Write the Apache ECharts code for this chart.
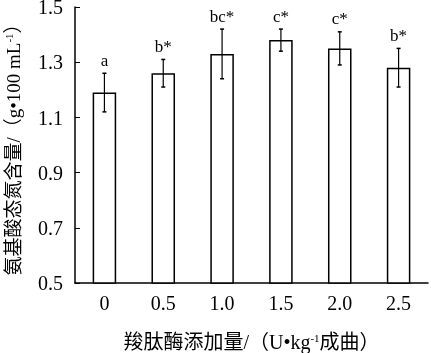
<!DOCTYPE html>
<html><head><meta charset="utf-8">
<script src="https://cdn.jsdelivr.net/npm/echarts@6/dist/echarts.min.js"></script>
<style>html,body{margin:0;padding:0;background:#fff}#c{width:431px;height:353px}</style>
</head><body><div id="c"></div>
<script>
const categories = ['0', '0.5', '1.0', '1.5', '2.0', '2.5'];
const values = [1.19, 1.26, 1.33, 1.38, 1.35, 1.28];
const errors = [0.07, 0.05, 0.09, 0.04, 0.06, 0.07];
const letters = ['a', 'b*', 'bc*', 'c*', 'c*', 'b*'];
const yTicks = [0.5, 0.7, 0.9, 1.1, 1.3, 1.5];

const FONT = '"Liberation Serif", "Times New Roman", "Noto Sans CJK SC", serif';
const chart = echarts.init(document.getElementById('c'));
const sup = { fontSize: 11, verticalAlign: 'top', padding: [0, 0, 9, 0], fontFamily: FONT, color: '#000' };
chart.setOption({
  animation: false,
  grid: { left: 75, right: 3, top: 7, bottom: 70, containLabel: false, outerBoundsMode: 'none' },
  xAxis: {
    type: 'category', data: categories,
    axisLine: { lineStyle: { color: '#000', width: 1.5 } },
    axisTick: { inside: true, length: 4, lineStyle: { color: '#000' } },
    axisLabel: { color: '#000', fontFamily: FONT, fontSize: 20, margin: 12 },
    name: '羧肽酶添加量/（U•kg{s|-1}成曲）',
    nameLocation: 'middle', nameGap: 51,
    nameTextStyle: { color: '#000', fontFamily: FONT, fontSize: 20, rich: { s: sup } }
  },
  yAxis: {
    type: 'value', min: yTicks[0], max: yTicks[yTicks.length - 1], interval: 0.2,
    splitLine: { show: false },
    axisLine: { show: true, lineStyle: { color: '#000', width: 1.5 } },
    axisTick: { show: true, inside: true, length: 5, lineStyle: { color: '#000' } },
    axisLabel: { color: '#000', fontFamily: FONT, fontSize: 20, margin: 12,
      verticalAlign: 'top', lineHeight: 4, formatter: v => v.toFixed(1) },
    name: '氨基酸态氮含量/（g•100 mL{s|-1}）',
    nameLocation: 'middle', nameGap: 50, nameRotate: 90,
    nameTextStyle: { color: '#000', fontFamily: FONT, fontSize: 19, rich: { s: sup } }
  },
  series: [
    {
      type: 'bar', data: values, barWidth: '40%',
      itemStyle: { color: '#fff', borderColor: '#000', borderWidth: 1.5 }
    },
    {
      type: 'custom',
      data: values.map((v, i) => [i, v, errors[i]]),
      z: 10,
      renderItem: function (params, api) {
        const i = api.value(0), v = api.value(1), e = api.value(2);
        const top = api.coord([i, v + e]);
        const bot = api.coord([i, v - e]);
        const cap = 2;
        return {
          type: 'group',
          children: [
            { type: 'line', shape: { x1: top[0], y1: top[1], x2: bot[0], y2: bot[1] }, style: { stroke: '#000', lineWidth: 1.2 } },
            { type: 'line', shape: { x1: top[0] - cap, y1: top[1], x2: top[0] + cap, y2: top[1] }, style: { stroke: '#000', lineWidth: 1.5 } },
            { type: 'line', shape: { x1: bot[0] - cap, y1: bot[1], x2: bot[0] + cap, y2: bot[1] }, style: { stroke: '#000', lineWidth: 1.5 } },
            { type: 'text', style: { text: letters[params.dataIndex], x: top[0], y: top[1] - 12, align: 'center', verticalAlign: 'middle', fontFamily: FONT, fontSize: 17, fill: '#000' } }
          ]
        };
      }
    }
  ]
});
</script></body></html>
